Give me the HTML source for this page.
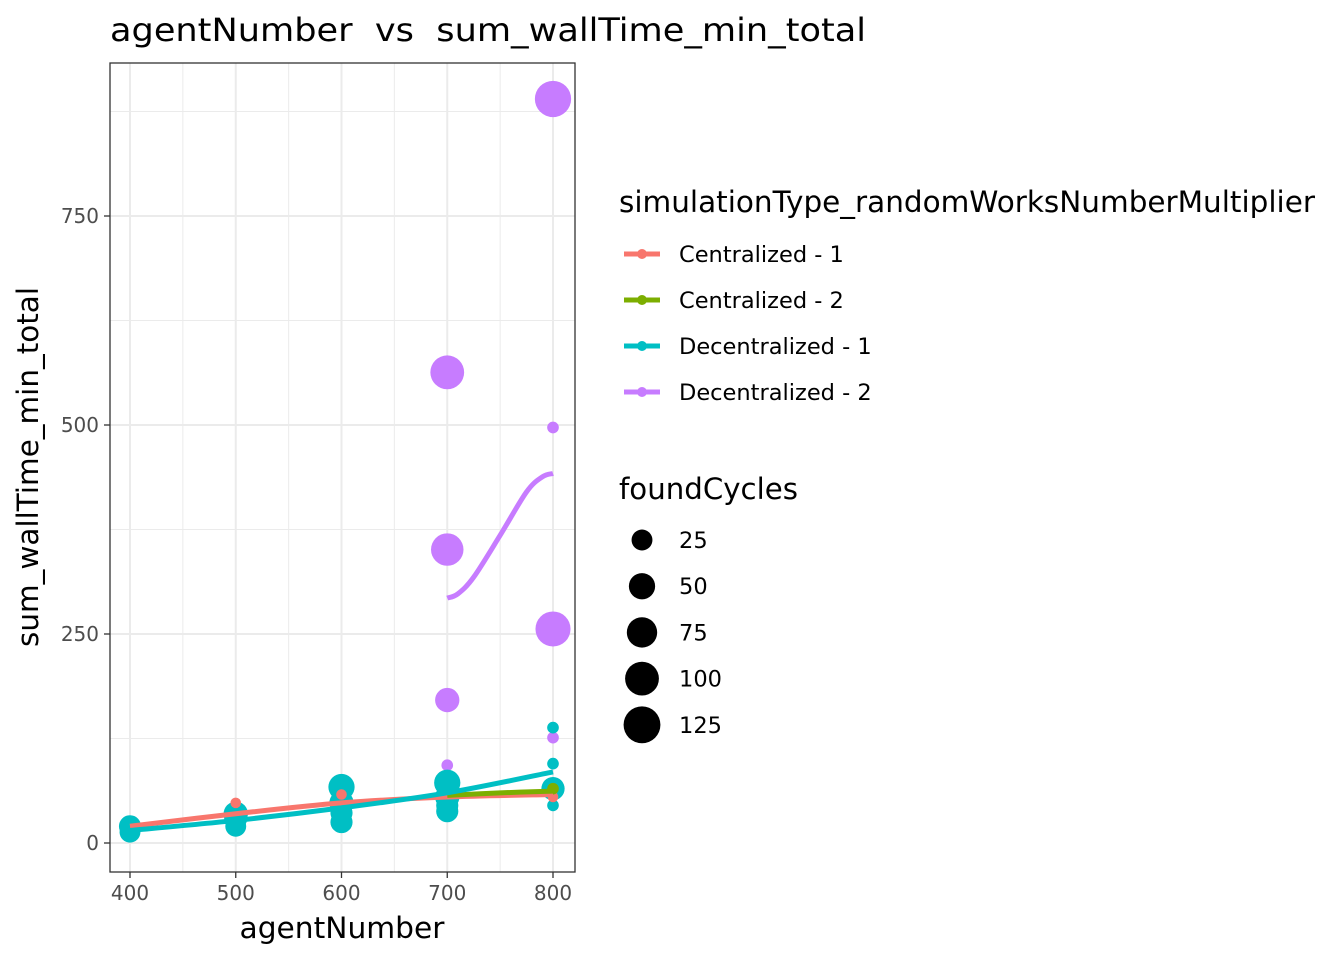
<!DOCTYPE html>
<html><head><meta charset="utf-8"><style>
body{margin:0;background:#fff;}
svg text{font-family:"DejaVu Sans","Liberation Sans",sans-serif;white-space:pre;}
</style></head><body>
<svg id="chart" width="1344" height="960" xmlns="http://www.w3.org/2000/svg">
<rect width="1344" height="960" fill="#fff"/>
<text x="110" y="41" font-size="32" fill="#000" textLength="756" lengthAdjust="spacingAndGlyphs" xml:space="preserve">agentNumber  vs  sum_wallTime_min_total</text>
<g id="grid"></g>
<g id="marks"></g>
<rect x="110" y="63" width="465" height="809" fill="none" stroke="#333" stroke-width="1.3"/>
<g id="axes"></g>
<text x="342" y="938" font-size="29" text-anchor="middle" textLength="205" lengthAdjust="spacingAndGlyphs">agentNumber</text>
<text transform="translate(38,467) rotate(-90)" font-size="29" text-anchor="middle" textLength="360" lengthAdjust="spacingAndGlyphs">sum_wallTime_min_total</text>
<g id="legend">
<text x="619" y="212" font-size="29" textLength="696" lengthAdjust="spacingAndGlyphs">simulationType_randomWorksNumberMultiplier</text>
<text x="619" y="499" font-size="29" textLength="179" lengthAdjust="spacingAndGlyphs">foundCycles</text>
</g>
</svg>
<script>
const series = ["Centralized - 1","Centralized - 2","Decentralized - 1","Decentralized - 2"];
const colors = ["#F8766D","#7CAE00","#00BFC4","#C77CFF"];
const xTicks = [400,500,600,700,800];
const yTicks = [0,250,500,750];
// points: [seriesIndex, agentNumber, wallTime, foundCycles]
const pointSeries = [3,3,3,3,3,3,3,3, 2,2,2,2,2,2,2,2,2,2,2,2,2,2,2,2,2, 0,0,0, 1];
const pointX = [800,700,700,800,700,800,700,800, 400,400,500,500,500,600,600,600,600,700,700,700,700,800,800,800,800, 500,600,800, 800];
const pointY = [890,563,351,256,171,497,93,126, 20,13,35,20,30,67,48,36,25,72,55,45,38,138,95,45,65, 48,58,55, 65];
const pointCycles = [120,100,90,110,40,2,2,2, 30,25,40,25,35,50,40,30,30,50,40,30,30,2,2,2,35, 1,1,1, 2];
// smoothed lines
const lineX = [[400,500,600,700,800],[700,750,800],[400,500,600,700,800],[700,710,725,750,775,790,800]];
const lineY = [[20,35,48,55,58],[57,60,62],[15,27,42,60,85],[293,298,318,368,420,438,442]];
const sizeLegend = [25,50,75,100,125];

const NS="http://www.w3.org/2000/svg";
const X=v=>130+(v-400)*1.0575;
const Y=v=>843-v*0.836;
const R=c=>4+1.29*Math.sqrt(c);
function mk(tag,attrs,parent){const e=document.createElementNS(NS,tag);for(const k in attrs)e.setAttribute(k,attrs[k]);parent.appendChild(e);return e;}
const grid=document.getElementById('grid'),marks=document.getElementById('marks'),axes=document.getElementById('axes'),legend=document.getElementById('legend');
mk('rect',{x:110,y:63,width:465,height:809,fill:'#fff'},grid);
for(let i=0;i<xTicks.length-1;i++){const v=(xTicks[i]+xTicks[i+1])/2;const l=mk('line',{x1:X(v),x2:X(v),y1:63,y2:872,stroke:'#ebebeb','stroke-width':1},grid);

}
for(const v of [125,375,625,875]){const l=mk('line',{x1:110,x2:575,y1:Y(v),y2:Y(v),stroke:'#ebebeb','stroke-width':1},grid);

}
xTicks.forEach(v=>{const l=mk('line',{x1:X(v),x2:X(v),y1:63,y2:872,stroke:'#ebebeb','stroke-width':2},grid);


mk('line',{x1:X(v),x2:X(v),y1:872,y2:878,stroke:'#333','stroke-width':1.3},axes);
const t=mk('text',{x:X(v),y:900,'font-size':20,fill:'#4d4d4d','text-anchor':'middle'},axes);t.textContent=v;

});
yTicks.forEach(v=>{const l=mk('line',{x1:110,x2:575,y1:Y(v),y2:Y(v),stroke:'#ebebeb','stroke-width':2},grid);


mk('line',{x1:104,x2:110,y1:Y(v),y2:Y(v),stroke:'#333','stroke-width':1.3},axes);
const t=mk('text',{x:99,y:Y(v)+7,'font-size':20,fill:'#4d4d4d','text-anchor':'end'},axes);t.textContent=v;

});
for(let i=0;i<pointX.length;i++){const c=mk('circle',{cx:X(pointX[i]),cy:Y(pointY[i]),r:R(pointCycles[i]),fill:colors[pointSeries[i]]},marks);

}
// smooth path via Catmull-Rom
function smooth(pts){let d='M'+pts[0][0]+','+pts[0][1];
for(let i=0;i<pts.length-1;i++){const p0=pts[i-1]||pts[i],p1=pts[i],p2=pts[i+1],p3=pts[i+2]||p2;
d+=' C'+(p1[0]+(p2[0]-p0[0])/6)+','+(p1[1]+(p2[1]-p0[1])/6)+' '+(p2[0]-(p3[0]-p1[0])/6)+','+(p2[1]-(p3[1]-p1[1])/6)+' '+p2[0]+','+p2[1];}
return d;}
lineX.forEach((xs,s)=>{const pts=xs.map((x,j)=>[X(x),Y(lineY[s][j])]);
const p=mk('path',{d:smooth(pts),fill:'none',stroke:colors[s],'stroke-width':5,'stroke-linecap':'butt'},marks);

});
series.forEach((s,i)=>{const y=254+i*46;
const g=mk('g',{},legend);


mk('line',{x1:624,x2:660,y1:y,y2:y,stroke:colors[i],'stroke-width':5},g);
mk('circle',{cx:642,cy:y,r:5,fill:colors[i]},g);
const t=mk('text',{x:679,y:y+8,'font-size':22.5},g);t.textContent=s;});
sizeLegend.forEach((v,i)=>{const y=540+i*46.2;
const g=mk('g',{},legend);


mk('circle',{cx:642,cy:y,r:R(v),fill:'#000'},g);
const t=mk('text',{x:679,y:y+8,'font-size':22.5},g);t.textContent=v;});
</script>
</body></html>
